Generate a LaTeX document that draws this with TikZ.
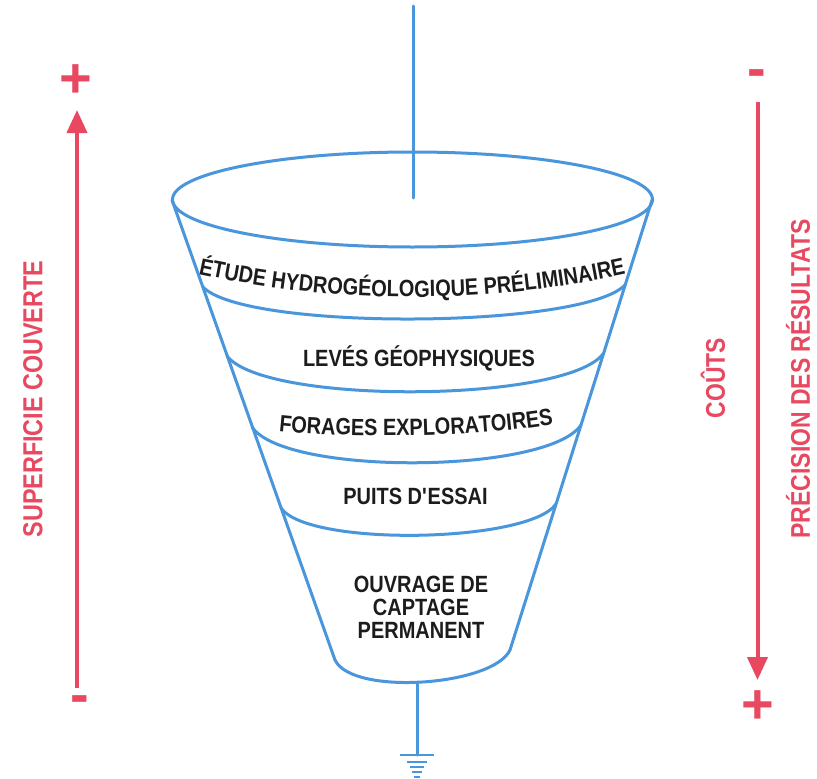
\documentclass[tikz,border=0pt]{standalone}
\usepackage{fontspec}
\newfontfamily\condfont[FakeStretch=0.85]{Liberation Sans}
\newfontfamily\signfont{Liberation Sans}
\usetikzlibrary{arrows.meta,decorations.text}
\definecolor{fblue}{RGB}{74,150,220}
\definecolor{fred}{RGB}{232,72,96}
\definecolor{ftxt}{RGB}{28,28,28}
\begin{document}
\begin{tikzpicture}[x=1pt,y=-1pt,
  funnel/.style={draw=fblue, line width=3pt, line join=round, line cap=round},
  groundline/.style={draw=fblue, line width=2.4pt},
  redline/.style={draw=fred, line width=4pt},
  lbl/.style={font=\condfont\bfseries\fontsize{23.5}{23}\selectfont, text=ftxt, inner sep=0pt},
  side/.style={font=\condfont\bfseries\fontsize{27.5}{27.5}\selectfont, text=fred, inner sep=0pt, rotate=90},
  sign/.style={font=\signfont\bfseries\fontsize{56}{56}\selectfont, text=fred, inner sep=0pt}]
\useasboundingbox[fill=white] (0,0) rectangle (817,779);

% funnel outline
\coordinate (tl) at (172,200);
\coordinate (tr) at (652,200);
\coordinate (bl) at (335,660);
\coordinate (br) at (510,650);
\draw[funnel] (412.5,199.5) ellipse [x radius=240, y radius=47.5];
\draw[funnel] (tl) -- (bl);
\draw[funnel] (tr) -- (br);
% bands
\draw[funnel] (203,287) .. controls (245,331) and (583,329) .. (625,285);
\draw[funnel] (227,356) .. controls (265,405) and (565,403) .. (603,354);
\draw[funnel] (252,427) .. controls (285,476) and (548,474) .. (581,425);
\draw[funnel] (281,508) .. controls (308,547) and (529,543) .. (556,504);
\draw[funnel] (bl) .. controls (352,696) and (493,686) .. (br);

% top pipe
\coordinate (p0) at (413,6);
\coordinate (p1) at (413,198);
\draw[funnel] (p0) -- (p1);
% bottom pipe and ground
\coordinate (g0) at (417,682);
\coordinate (g1) at (417,755);
\draw[funnel] (g0) -- (g1);
\draw[groundline] (400,755) -- (434,755);
\draw[groundline] (407,762) -- (427,762);
\draw[groundline] (410,767) -- (424,767);
\draw[groundline] (412,772) -- (422,772);
\draw[groundline] (414,777) -- (420,777);

% band labels
\path[decorate, decoration={text along path, text align=center, text color=ftxt,
  text={|\condfont\bfseries\fontsize{23.5}{23.5}\selectfont|ÉTUDE HYDROGÉOLOGIQUE PRÉLIMINAIRE}}]
  (190.1,272.4) arc[start angle=102.66, end angle=77.34, radius=1013];
\node[lbl, anchor=base] (lev) at (419,366) {LEVÉS GÉOPHYSIQUES};
\path[decorate, decoration={text along path, text align=center, text color=ftxt,
  text={|\condfont\bfseries\fontsize{23.5}{23.5}\selectfont|FORAGES EXPLORATOIRES}}]
  (262,429) .. controls (340,440) and (490,438) .. (570,421);
\node[lbl, anchor=base] (pui) at (415.5,504) {PUITS D\textquotesingle ESSAI};
\node[lbl, align=center] (ouv) at (421,607) {OUVRAGE DE\\CAPTAGE\\PERMANENT};

% left scale
\coordinate (la0) at (77,688);
\coordinate (la1) at (77,110);
\draw[redline, -{Triangle[length=23pt,width=20pt]}] (la0) -- (la1);
\node[sign] (lplus) at (76,81) {+};
\node[sign] (lminus) at (80,704.5) {-};
\node[side] (sup) at (33,399) {SUPERFICIE COUVERTE};

% right scale
\coordinate (ra0) at (757.5,102);
\coordinate (ra1) at (757.5,680);
\draw[redline, -{Triangle[length=23pt,width=20pt]}] (ra0) -- (ra1);
\node[sign] (rminus) at (757,78.5) {-};
\node[sign] (rplus) at (758,707) {+};
\node[side, font=\condfont\bfseries\fontsize{27}{27}\selectfont] (cout) at (713,378) {COÛTS};
\node[side, font=\condfont\bfseries\fontsize{27}{27}\selectfont] (prec) at (798,379) {PRÉCISION DES RÉSULTATS};
\end{tikzpicture}
\end{document}
